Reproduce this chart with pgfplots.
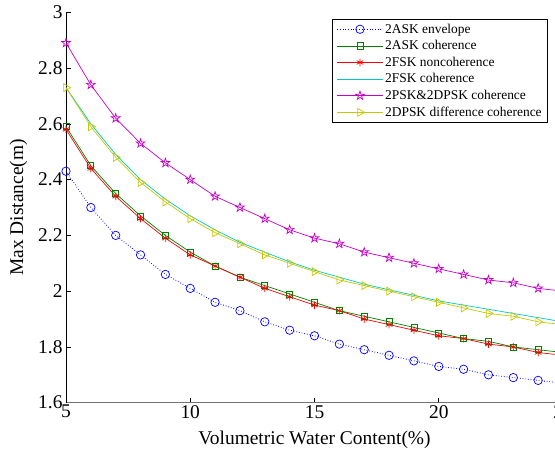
\documentclass[border=0pt]{standalone}
\usepackage{fontspec}
\setmainfont{Liberation Serif}
\usepackage{pgfplots}
\usepackage{pgfplotstable}
\pgfplotsset{compat=1.18}
\usetikzlibrary{calc,plotmarks}

\pgfdeclareplotmark{pentagram}{%
  \pgfpathmoveto{\pgfqpointpolar{90}{\pgfplotmarksize}}%
  \pgfpathlineto{\pgfqpointpolar{126}{0.382\pgfplotmarksize}}%
  \pgfpathlineto{\pgfqpointpolar{162}{\pgfplotmarksize}}%
  \pgfpathlineto{\pgfqpointpolar{198}{0.382\pgfplotmarksize}}%
  \pgfpathlineto{\pgfqpointpolar{234}{\pgfplotmarksize}}%
  \pgfpathlineto{\pgfqpointpolar{270}{0.382\pgfplotmarksize}}%
  \pgfpathlineto{\pgfqpointpolar{306}{\pgfplotmarksize}}%
  \pgfpathlineto{\pgfqpointpolar{342}{0.382\pgfplotmarksize}}%
  \pgfpathlineto{\pgfqpointpolar{18}{\pgfplotmarksize}}%
  \pgfpathlineto{\pgfqpointpolar{54}{0.382\pgfplotmarksize}}%
  \pgfpathclose
  \pgfusepathqstroke
}

\definecolor{mgreen}{rgb}{0,0.5,0}
\definecolor{myellow}{rgb}{0.78,0.78,0}
\definecolor{mcyan}{rgb}{0,0.78,0.78}
\definecolor{mmagenta}{rgb}{0.78,0,0.78}

\pgfplotstableread{
x env askc fskn fskc psk dpsk
5 2.43 2.59 2.58 2.73 2.89 2.73
6 2.30 2.45 2.44 2.60 2.74 2.59
7 2.20 2.35 2.34 2.49 2.62 2.48
8 2.13 2.27 2.26 2.40 2.53 2.39
9 2.06 2.20 2.19 2.33 2.46 2.32
10 2.01 2.14 2.13 2.27 2.40 2.26
11 1.96 2.09 2.09 2.22 2.34 2.21
12 1.93 2.05 2.05 2.175 2.30 2.17
13 1.89 2.02 2.01 2.14 2.26 2.13
14 1.86 1.99 1.98 2.105 2.22 2.10
15 1.84 1.96 1.95 2.075 2.19 2.07
16 1.81 1.93 1.93 2.05 2.17 2.04
17 1.79 1.91 1.90 2.025 2.14 2.02
18 1.77 1.89 1.88 2.005 2.12 2.00
19 1.75 1.87 1.86 1.985 2.10 1.98
20 1.73 1.85 1.84 1.965 2.08 1.96
21 1.72 1.83 1.83 1.95 2.06 1.94
22 1.70 1.82 1.81 1.935 2.04 1.92
23 1.69 1.80 1.80 1.92 2.03 1.91
24 1.68 1.79 1.78 1.905 2.01 1.89
25 1.67 1.78 1.77 1.89 2.00 1.88
}\data

\begin{document}
\begin{tikzpicture}
\begin{axis}[
  name=ax,
  scale only axis,
  width=497bp, height=390.4bp,
  xmin=5, xmax=25, ymin=1.6, ymax=3,
  xtick={5,10,15,20,25},
  ytick={1.6,1.8,2,2.2,2.4,2.6,2.8,3},
  axis x line=bottom, axis y line=left,
  x axis line style={-, draw=black!55, line width=1.2bp},
  y axis line style={-, draw=black, line width=0.8bp},
  tick align=inside,
  major tick length=5bp,
  tick style={black, line width=0.6bp},
  /pgf/number format/assume math mode=true,
  tick label style={font=\fontsize{19.5}{21}\selectfont},
  xticklabel style={yshift=1bp},
  label style={font=\fontsize{19.5}{21}\selectfont},
  xlabel={Volumetric Water Content(\%)},
  ylabel={Max Distance(m)},
  xlabel style={yshift=-6bp},
  ylabel style={yshift=4bp},
  clip=true,
  legend cell align=left,
  legend style={at={(0.97,0.983)}, anchor=north east, draw=black, line width=0.8bp,
    font=\fontsize{13.5}{15}\selectfont, row sep=1.8bp, inner xsep=4bp, inner ysep=2.5bp},
  legend image code/.code={\draw[mark repeat=2,mark phase=2] plot coordinates {(0cm,0cm) (0.8cm,0cm) (1.6cm,0cm)};},
  every axis plot/.append style={line width=0.7bp},
]
\addplot[blue, dotted, line width=0.9bp, mark=o, mark size=4.2bp, mark options={solid, line width=0.7bp}] table[x=x,y=env] {\data};
\addlegendentry{2ASK envelope}
\addplot[mgreen, mark=square, mark size=3bp, mark options={solid}] table[x=x,y=askc] {\data};
\addlegendentry{2ASK coherence}
\addplot[red, mark=asterisk, mark size=3.8bp, mark options={solid}] table[x=x,y=fskn] {\data};
\addlegendentry{2FSK noncoherence}
\addplot[mcyan, no marks] table[x=x,y=fskc] {\data};
\addlegendentry{2FSK coherence}
\addplot[mmagenta, mark=pentagram, mark size=4.6bp, mark options={solid}] table[x=x,y=psk] {\data};
\addlegendentry{2PSK\&2DPSK coherence}
\addplot[myellow, mark=triangle, mark size=4.6bp, mark options={solid, rotate=-90}] table[x=x,y=dpsk] {\data};
\addlegendentry{2DPSK difference coherence}
\end{axis}
\pgfresetboundingbox
\path[use as bounding box] ($(ax.south west)+(-66bp,-53.3bp)$) rectangle ($(ax.south west)+(489bp,402.7bp)$);
\end{tikzpicture}
\end{document}
